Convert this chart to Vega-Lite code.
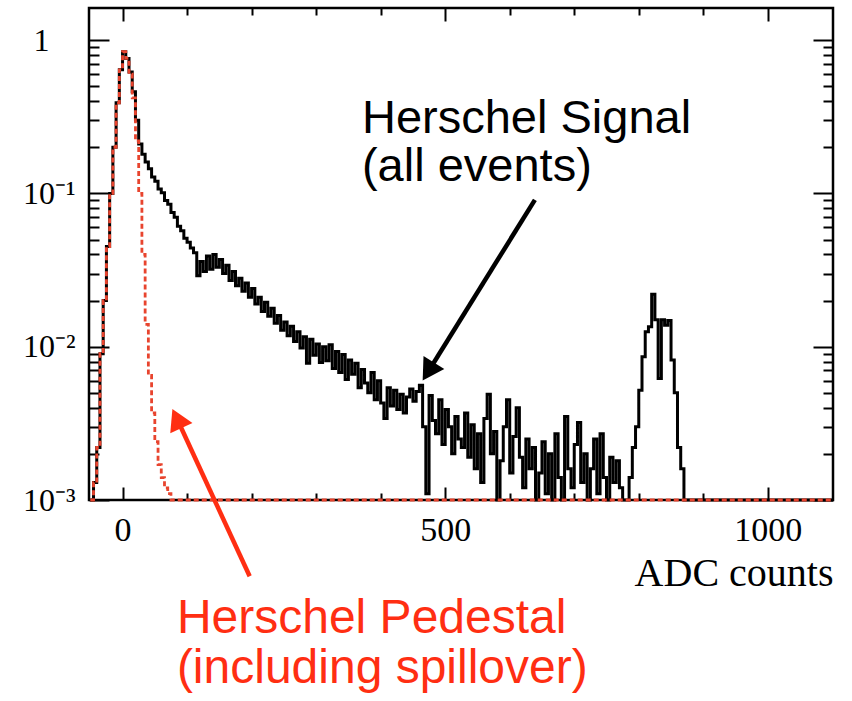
{
  "$schema": "https://vega.github.io/schema/vega-lite/v6.json",
  "autosize": "none",
  "width": 744,
  "height": 492,
  "padding": {"left": 89, "top": 8, "right": 19, "bottom": 201},
  "background": "white",
  "view": {"stroke": "black", "strokeWidth": 2.5},
  "datasets": {
    "signal": [
      {"x": -50, "y": 0.001}, {"x": -45, "y": 0.0013}, {"x": -40, "y": 0.0022}, {"x": -35, "y": 0.009},
      {"x": -30, "y": 0.02}, {"x": -25, "y": 0.045}, {"x": -20, "y": 0.1}, {"x": -15, "y": 0.2},
      {"x": -10, "y": 0.39}, {"x": -5, "y": 0.64}, {"x": 0, "y": 0.84}, {"x": 5, "y": 0.76},
      {"x": 10, "y": 0.62}, {"x": 15, "y": 0.46}, {"x": 20, "y": 0.3}, {"x": 25, "y": 0.21},
      {"x": 30, "y": 0.18}, {"x": 35, "y": 0.16}, {"x": 40, "y": 0.145}, {"x": 45, "y": 0.128},
      {"x": 50, "y": 0.12}, {"x": 55, "y": 0.107}, {"x": 60, "y": 0.101}, {"x": 65, "y": 0.09},
      {"x": 70, "y": 0.085}, {"x": 75, "y": 0.075}, {"x": 80, "y": 0.07}, {"x": 85, "y": 0.061},
      {"x": 90, "y": 0.057}, {"x": 95, "y": 0.051}, {"x": 100, "y": 0.048}, {"x": 105, "y": 0.044},
      {"x": 110, "y": 0.041}, {"x": 115, "y": 0.029}, {"x": 120, "y": 0.036}, {"x": 125, "y": 0.031},
      {"x": 130, "y": 0.039}, {"x": 135, "y": 0.032}, {"x": 140, "y": 0.04}, {"x": 145, "y": 0.033},
      {"x": 150, "y": 0.037}, {"x": 155, "y": 0.03}, {"x": 160, "y": 0.034}, {"x": 165, "y": 0.027},
      {"x": 170, "y": 0.031}, {"x": 175, "y": 0.025}, {"x": 180, "y": 0.028}, {"x": 185, "y": 0.023},
      {"x": 190, "y": 0.026}, {"x": 195, "y": 0.021}, {"x": 200, "y": 0.024}, {"x": 205, "y": 0.019},
      {"x": 210, "y": 0.021}, {"x": 215, "y": 0.017}, {"x": 220, "y": 0.0195}, {"x": 225, "y": 0.0158},
      {"x": 230, "y": 0.0178}, {"x": 235, "y": 0.0142}, {"x": 240, "y": 0.016}, {"x": 245, "y": 0.0128},
      {"x": 250, "y": 0.0145}, {"x": 255, "y": 0.0118}, {"x": 260, "y": 0.0136}, {"x": 265, "y": 0.0108},
      {"x": 270, "y": 0.0125}, {"x": 275, "y": 0.0098}, {"x": 280, "y": 0.0116}, {"x": 285, "y": 0.0078},
      {"x": 290, "y": 0.0112}, {"x": 295, "y": 0.0088}, {"x": 300, "y": 0.0104}, {"x": 305, "y": 0.0079},
      {"x": 310, "y": 0.01}, {"x": 315, "y": 0.0081}, {"x": 320, "y": 0.0103}, {"x": 325, "y": 0.0072},
      {"x": 330, "y": 0.0093}, {"x": 335, "y": 0.0068}, {"x": 340, "y": 0.0089}, {"x": 345, "y": 0.0061},
      {"x": 350, "y": 0.0082}, {"x": 355, "y": 0.0066}, {"x": 360, "y": 0.0078}, {"x": 365, "y": 0.0054},
      {"x": 370, "y": 0.0071}, {"x": 375, "y": 0.0058}, {"x": 380, "y": 0.005}, {"x": 385, "y": 0.0068},
      {"x": 390, "y": 0.0045}, {"x": 395, "y": 0.006}, {"x": 400, "y": 0.0043}, {"x": 405, "y": 0.0034},
      {"x": 410, "y": 0.0054}, {"x": 415, "y": 0.0041}, {"x": 420, "y": 0.0052}, {"x": 425, "y": 0.0039},
      {"x": 430, "y": 0.0049}, {"x": 435, "y": 0.0037}, {"x": 440, "y": 0.0047}, {"x": 445, "y": 0.0053},
      {"x": 450, "y": 0.0044}, {"x": 455, "y": 0.0051}, {"x": 460, "y": 0.0056}, {"x": 465, "y": 0.003},
      {"x": 470, "y": 0.0011}, {"x": 475, "y": 0.0048}, {"x": 480, "y": 0.0033}, {"x": 485, "y": 0.0027},
      {"x": 490, "y": 0.0045}, {"x": 495, "y": 0.0023}, {"x": 500, "y": 0.0039}, {"x": 505, "y": 0.003},
      {"x": 510, "y": 0.002}, {"x": 515, "y": 0.0035}, {"x": 520, "y": 0.0025}, {"x": 525, "y": 0.0022},
      {"x": 530, "y": 0.0037}, {"x": 535, "y": 0.0019}, {"x": 540, "y": 0.0031}, {"x": 545, "y": 0.0016},
      {"x": 550, "y": 0.0027}, {"x": 555, "y": 0.0013}, {"x": 560, "y": 0.0034}, {"x": 565, "y": 0.0049},
      {"x": 570, "y": 0.002}, {"x": 575, "y": 0.0028}, {"x": 580, "y": 0.001}, {"x": 585, "y": 0.0018},
      {"x": 590, "y": 0.003}, {"x": 595, "y": 0.0045}, {"x": 600, "y": 0.0015}, {"x": 605, "y": 0.0026},
      {"x": 610, "y": 0.004}, {"x": 615, "y": 0.0019}, {"x": 620, "y": 0.0012}, {"x": 625, "y": 0.0025},
      {"x": 630, "y": 0.0016}, {"x": 635, "y": 0.0022}, {"x": 640, "y": 0.001}, {"x": 645, "y": 0.0015},
      {"x": 650, "y": 0.0024}, {"x": 655, "y": 0.0011}, {"x": 660, "y": 0.002}, {"x": 665, "y": 0.001},
      {"x": 670, "y": 0.0027}, {"x": 675, "y": 0.0014}, {"x": 680, "y": 0.001}, {"x": 685, "y": 0.0035},
      {"x": 690, "y": 0.0016}, {"x": 695, "y": 0.0012}, {"x": 700, "y": 0.0023}, {"x": 705, "y": 0.0032},
      {"x": 710, "y": 0.0013}, {"x": 715, "y": 0.002}, {"x": 720, "y": 0.001}, {"x": 725, "y": 0.0016},
      {"x": 730, "y": 0.0025}, {"x": 735, "y": 0.0011}, {"x": 740, "y": 0.0027}, {"x": 745, "y": 0.0014},
      {"x": 750, "y": 0.001}, {"x": 755, "y": 0.0019}, {"x": 760, "y": 0.0013}, {"x": 765, "y": 0.0018},
      {"x": 770, "y": 0.0012}, {"x": 775, "y": 0.001}, {"x": 780, "y": 0.001}, {"x": 785, "y": 0.0014},
      {"x": 790, "y": 0.0022}, {"x": 795, "y": 0.003}, {"x": 800, "y": 0.0052}, {"x": 805, "y": 0.0086},
      {"x": 810, "y": 0.0125}, {"x": 815, "y": 0.0135}, {"x": 820, "y": 0.022}, {"x": 825, "y": 0.015},
      {"x": 830, "y": 0.0062}, {"x": 835, "y": 0.015}, {"x": 840, "y": 0.0138}, {"x": 845, "y": 0.0148},
      {"x": 850, "y": 0.0082}, {"x": 855, "y": 0.005}, {"x": 860, "y": 0.0022}, {"x": 865, "y": 0.0016},
      {"x": 870, "y": 0.001}, {"x": 1101, "y": 0.001}
    ],
    "pedestal": [
      {"x": -50, "y": 0.001}, {"x": -45, "y": 0.0013}, {"x": -40, "y": 0.0022}, {"x": -35, "y": 0.009},
      {"x": -30, "y": 0.02}, {"x": -25, "y": 0.045}, {"x": -20, "y": 0.1}, {"x": -15, "y": 0.2},
      {"x": -10, "y": 0.39}, {"x": -5, "y": 0.64}, {"x": 0, "y": 0.84}, {"x": 5, "y": 0.76},
      {"x": 10, "y": 0.6}, {"x": 15, "y": 0.42}, {"x": 20, "y": 0.22}, {"x": 25, "y": 0.1},
      {"x": 30, "y": 0.04}, {"x": 35, "y": 0.014}, {"x": 40, "y": 0.0065}, {"x": 45, "y": 0.0037},
      {"x": 50, "y": 0.0024}, {"x": 55, "y": 0.0017}, {"x": 60, "y": 0.0014}, {"x": 65, "y": 0.0012},
      {"x": 70, "y": 0.0011}, {"x": 75, "y": 0.001}, {"x": 1101, "y": 0.001}
    ],
    "arrows": [
      {"series": "signal", "x": 639, "y": 0.0908, "x2": 473.8, "y2": 0.00689, "angle": 212},
      {"series": "pedestal", "x": 197, "y": 0.000318, "x2": 84.2, "y2": 0.0034, "angle": 335}
    ],
    "notes": [
      {"series": "signal", "text": "Herschel Signal", "x": 371, "y": 0.2478},
      {"series": "signal", "text": "(all events)", "x": 371, "y": 0.1206},
      {"series": "pedestal", "text": "Herschel Pedestal", "x": 84.2, "y": 0.000135},
      {"series": "pedestal", "text": "(including spillover)", "x": 84.2, "y": 0.0000638}
    ]
  },
  "resolve": {"axis": {"x": "independent", "y": "independent"}},
  "layer": [
    {
      "data": {"name": "signal"},
      "mark": {"type": "line", "interpolate": "step-after", "color": "black", "strokeWidth": 3},
      "encoding": {
        "x": {
          "field": "x", "type": "quantitative",
          "scale": {"domain": [-52, 1101], "nice": false, "zero": false},
          "axis": {
            "orient": "bottom", "values": [0, 100, 200, 300, 400, 500, 600, 700, 800, 900, 1000],
            "format": "d",
            "labelExpr": "datum.value % 500 == 0 ? datum.label : ''",
            "labelOverlap": false, "labelFlush": false,
            "domain": false, "grid": false,
            "tickColor": "black", "tickWidth": 2,
            "tickSize": {"condition": {"test": "datum.value % 500 == 0", "value": -13}, "value": -7},
            "labelFont": "Liberation Serif", "labelFontSize": 34, "labelColor": "black", "labelPadding": 26,
            "title": "ADC counts", "titleFont": "Liberation Serif", "titleFontSize": 40,
            "titleFontWeight": "normal", "titleColor": "black", "titleAnchor": "end", "titlePadding": 0
          }
        },
        "y": {
          "field": "y", "type": "quantitative",
          "scale": {"type": "log", "domain": [0.001, 1.62], "nice": false},
          "axis": {
            "orient": "left",
            "values": [0.001, 0.002, 0.003, 0.004, 0.005, 0.006, 0.007, 0.008, 0.009, 0.01, 0.02, 0.03, 0.04, 0.05, 0.06, 0.07, 0.08, 0.09, 0.1, 0.2, 0.3, 0.4, 0.5, 0.6, 0.7, 0.8, 0.9, 1],
            "labelExpr": "datum.value == 1 ? '1' : datum.value == 0.1 ? '10⁻¹' : datum.value == 0.01 ? '10⁻²' : datum.value == 0.001 ? '10⁻³' : ''",
            "labelOverlap": false, "labelFlush": false,
            "domain": false, "grid": false,
            "tickColor": "black", "tickWidth": 2,
            "tickSize": {"condition": {"test": "datum.value == 1 || datum.value == 0.1 || datum.value == 0.01 || datum.value == 0.001", "value": -20}, "value": -10},
            "labelFont": "Liberation Serif", "labelFontSize": 32, "labelColor": "black",
            "labelPadding": {"condition": {"test": "datum.value == 1", "value": 60}, "value": 34},
            "title": null
          }
        }
      }
    },
    {
      "data": {"name": "pedestal"},
      "mark": {"type": "line", "interpolate": "step-after", "color": "#e8442e", "strokeWidth": 2.8, "strokeDash": [5, 3]},
      "encoding": {
        "x": {
          "field": "x", "type": "quantitative",
          "scale": {"domain": [-52, 1101], "nice": false, "zero": false},
          "axis": {
            "orient": "top", "values": [0, 100, 200, 300, 400, 500, 600, 700, 800, 900, 1000],
            "labels": false, "domain": false, "grid": false,
            "tickColor": "black", "tickWidth": 2,
            "tickSize": {"condition": {"test": "datum.value % 500 == 0", "value": -13}, "value": -7},
            "title": null
          }
        },
        "y": {
          "field": "y", "type": "quantitative",
          "scale": {"type": "log", "domain": [0.001, 1.62], "nice": false},
          "axis": {
            "orient": "right",
            "values": [0.001, 0.002, 0.003, 0.004, 0.005, 0.006, 0.007, 0.008, 0.009, 0.01, 0.02, 0.03, 0.04, 0.05, 0.06, 0.07, 0.08, 0.09, 0.1, 0.2, 0.3, 0.4, 0.5, 0.6, 0.7, 0.8, 0.9, 1],
            "labels": false, "domain": false, "grid": false,
            "tickColor": "black", "tickWidth": 2,
            "tickSize": {"condition": {"test": "datum.value == 1 || datum.value == 0.1 || datum.value == 0.01 || datum.value == 0.001", "value": -20}, "value": -10},
            "title": null
          }
        }
      }
    },
    {
      "data": {"name": "arrows"},
      "mark": {"type": "rule", "strokeWidth": 4.5},
      "encoding": {
        "x": {"field": "x", "type": "quantitative", "scale": {"domain": [-52, 1101], "nice": false, "zero": false}, "axis": null},
        "y": {"field": "y", "type": "quantitative", "scale": {"type": "log", "domain": [0.001, 1.62], "nice": false}, "axis": null},
        "x2": {"field": "x2"},
        "y2": {"field": "y2"},
        "color": {"field": "series", "type": "nominal", "scale": {"domain": ["signal", "pedestal"], "range": ["#000000", "#ff2e12"]}, "legend": null}
      }
    },
    {
      "data": {"name": "arrows"},
      "mark": {"type": "point", "shape": "triangle-up", "filled": true, "size": 600, "opacity": 1},
      "encoding": {
        "x": {"field": "x2", "type": "quantitative", "scale": {"domain": [-52, 1101], "nice": false, "zero": false}, "axis": null},
        "y": {"field": "y2", "type": "quantitative", "scale": {"type": "log", "domain": [0.001, 1.62], "nice": false}, "axis": null},
        "angle": {"field": "angle", "type": "quantitative", "scale": null},
        "color": {"field": "series", "type": "nominal", "scale": {"domain": ["signal", "pedestal"], "range": ["#000000", "#ff2e12"]}, "legend": null}
      }
    },
    {
      "data": {"name": "notes"},
      "mark": {"type": "text", "align": "left", "baseline": "alphabetic", "font": "Liberation Sans", "fontSize": 47},
      "encoding": {
        "x": {"field": "x", "type": "quantitative", "scale": {"domain": [-52, 1101], "nice": false, "zero": false}, "axis": null},
        "y": {"field": "y", "type": "quantitative", "scale": {"type": "log", "domain": [0.001, 1.62], "nice": false}, "axis": null},
        "text": {"field": "text"},
        "size": {"field": "series", "type": "nominal", "scale": {"domain": ["signal", "pedestal"], "range": [47, 48]}, "legend": null},
        "color": {"field": "series", "type": "nominal", "scale": {"domain": ["signal", "pedestal"], "range": ["#000000", "#ff2e12"]}, "legend": null}
      }
    }
  ]
}
